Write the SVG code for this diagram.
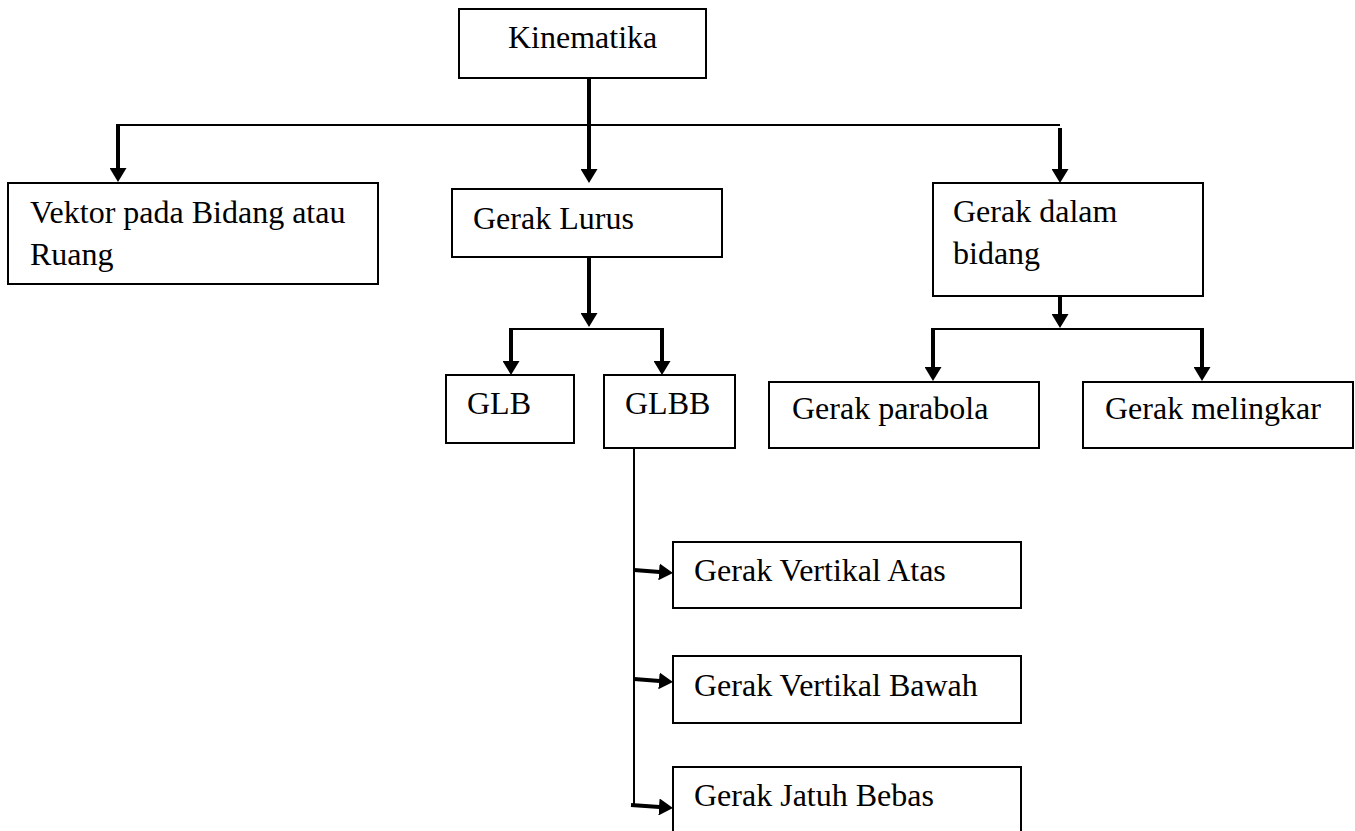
<svg xmlns="http://www.w3.org/2000/svg" width="1355" height="831" viewBox="0 0 1355 831">
<style>
.box{fill:#fff;stroke:#000;stroke-width:2}
.t{font-family:"Liberation Serif","Times New Roman",serif;font-size:32px;fill:#000}
.thin{fill:none;stroke:#000;stroke-width:2}
.thick{fill:none;stroke:#000;stroke-width:4}
</style>
<defs>
<marker id="ah" markerUnits="userSpaceOnUse" markerWidth="14" markerHeight="17" refX="4" refY="8.5" orient="auto" viewBox="0 0 14 17">
<path d="M0,0 L14,8.5 L0,17 z" fill="#000"/>
</marker>
</defs>
<rect width="1355" height="831" fill="#fff"/>
<g id="connectors">
<line class="thin" x1="118" y1="125" x2="1060" y2="125"/>
<line class="thick" x1="589" y1="78" x2="589" y2="173" marker-end="url(#ah)"/>
<line class="thick" x1="118" y1="124" x2="118" y2="172" marker-end="url(#ah)"/>
<line class="thick" x1="1060" y1="128" x2="1060" y2="173" marker-end="url(#ah)"/>
<line class="thick" x1="589" y1="257" x2="589" y2="317" marker-end="url(#ah)"/>
<line class="thin" x1="511" y1="329" x2="662" y2="329"/>
<line class="thick" x1="511" y1="328" x2="511" y2="365" marker-end="url(#ah)"/>
<line class="thick" x1="662" y1="328" x2="662" y2="365" marker-end="url(#ah)"/>
<line class="thick" x1="1060" y1="296" x2="1060" y2="318" marker-end="url(#ah)"/>
<line class="thin" x1="933" y1="329" x2="1202" y2="329"/>
<line class="thick" x1="933" y1="328" x2="933" y2="371" marker-end="url(#ah)"/>
<line class="thick" x1="1202" y1="328" x2="1202" y2="371" marker-end="url(#ah)"/>
<line class="thin" x1="634" y1="448" x2="634" y2="806"/>
<line class="thick" x1="634" y1="570" x2="663" y2="572.2" marker-end="url(#ah)"/>
<line class="thick" x1="634" y1="679" x2="663" y2="681.2" marker-end="url(#ah)"/>
<line class="thick" x1="631" y1="805" x2="663" y2="807.2" marker-end="url(#ah)"/>
</g>
<g id="kinematika"><rect class="box" x="459" y="9" width="247" height="69"/><text class="t" x="508" y="48">Kinematika</text></g>
<g id="vektor"><rect class="box" x="8" y="183" width="370" height="101"/><text class="t" x="30" y="223">Vektor pada Bidang atau</text><text class="t" x="30" y="265">Ruang</text></g>
<g id="gerak-lurus"><rect class="box" x="452" y="189" width="270" height="68"/><text class="t" x="473" y="229">Gerak Lurus</text></g>
<g id="gerak-dalam-bidang"><rect class="box" x="933" y="183" width="270" height="113"/><text class="t" x="953" y="222">Gerak dalam</text><text class="t" x="953" y="264">bidang</text></g>
<g id="glb"><rect class="box" x="446" y="375" width="128" height="68"/><text class="t" x="467" y="414">GLB</text></g>
<g id="glbb"><rect class="box" x="604" y="375" width="131" height="73"/><text class="t" x="625" y="414">GLBB</text></g>
<g id="gerak-parabola"><rect class="box" x="769" y="382" width="270" height="66"/><text class="t" x="792" y="419">Gerak parabola</text></g>
<g id="gerak-melingkar"><rect class="box" x="1083" y="382" width="270" height="66"/><text class="t" x="1105" y="419">Gerak melingkar</text></g>
<g id="gerak-vertikal-atas"><rect class="box" x="673" y="542" width="348" height="66"/><text class="t" x="694" y="581">Gerak Vertikal Atas</text></g>
<g id="gerak-vertikal-bawah"><rect class="box" x="673" y="656" width="348" height="67"/><text class="t" x="694" y="696">Gerak Vertikal Bawah</text></g>
<g id="gerak-jatuh-bebas"><rect class="box" x="673" y="767" width="348" height="80"/><text class="t" x="694" y="806">Gerak Jatuh Bebas</text></g>
</svg>
